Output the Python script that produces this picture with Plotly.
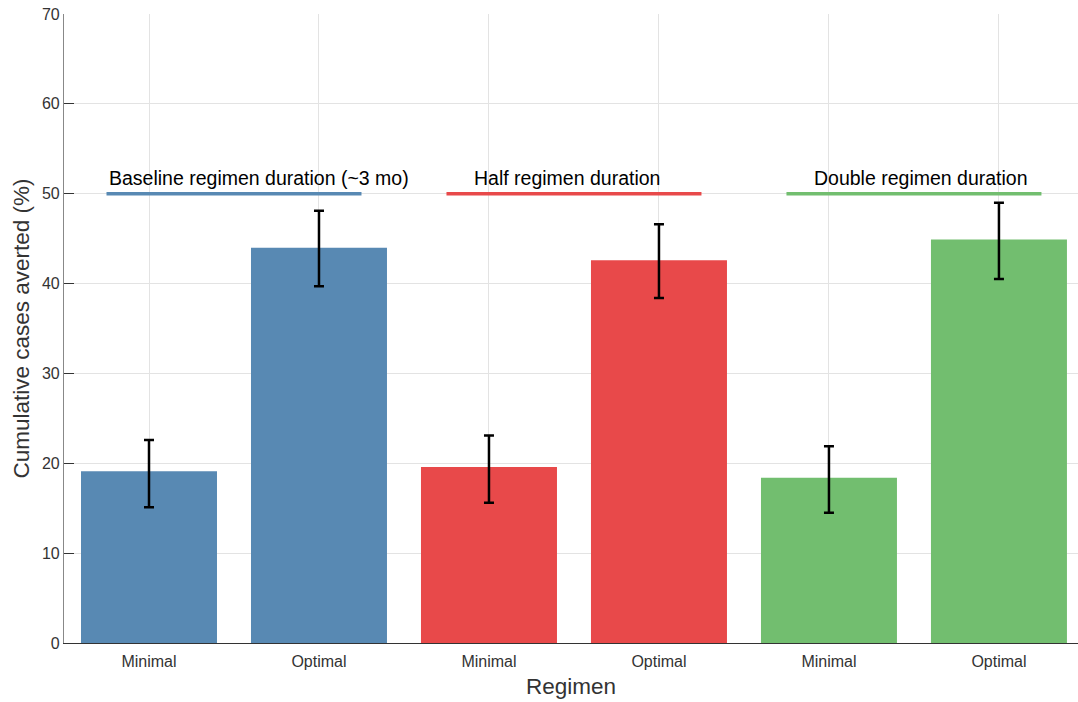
import plotly.graph_objects as go

# Regimen scenarios and estimates
regimens = ["Minimal", "Optimal", "Minimal", "Optimal", "Minimal", "Optimal"]
averted = [19.1, 44.0, 19.6, 42.6, 18.4, 44.9]
err_plus = [3.5, 4.1, 3.5, 4.0, 3.5, 4.1]
err_minus = [4.0, 4.3, 4.0, 4.2, 3.9, 4.4]
groups = ["Baseline regimen duration (~3 mo)", "Half regimen duration", "Double regimen duration"]
group_colors = ["#5889b3", "#e8494a", "#72be6f"]

x_pos = list(range(len(regimens)))
bar_colors = [group_colors[i // 2] for i in x_pos]

fig = go.Figure()
fig.add_trace(go.Bar(
    x=x_pos,
    y=averted,
    width=0.8,
    marker=dict(color=bar_colors, line=dict(width=0)),
    error_y=dict(type="data", array=err_plus, arrayminus=err_minus,
                 color="black", thickness=2.5, width=5, symmetric=False),
    showlegend=False,
))

# Group brackets at 50% with labels
text_offsets = [0.0, 0.15, 0.15]
for g, (name, col) in enumerate(zip(groups, group_colors)):
    center = 2 * g + 0.5
    fig.add_shape(type="line", xref="x", yref="y",
                  x0=center - 0.75, x1=center + 0.75, y0=50, y1=50,
                  line=dict(color=col, width=3.5))
    fig.add_annotation(x=center - 0.75 + text_offsets[g], y=50, xref="x", yref="y",
                       text=name, showarrow=False, xanchor="left", yanchor="bottom",
                       yshift=3, font=dict(size=19.5, color="black"))

fig.update_layout(
    width=1078, height=702,
    margin=dict(l=64, r=0, t=14, b=59),
    plot_bgcolor="white", paper_bgcolor="white",
    font=dict(family="Liberation Sans, Arial, sans-serif", color="#333"),
    bargap=0.2,
)
fig.update_xaxes(
    tickvals=x_pos, ticktext=regimens, range=[-0.5, 5.465],
    showgrid=True, gridcolor="#e3e3e3", gridwidth=1,
    showline=True, linecolor="#333", linewidth=1.2,
    ticks="", tickfont=dict(size=16, color="#333"), ticklabelstandoff=4,
    title=dict(text="Regimen", font=dict(size=22.5, color="#333"), standoff=8),
    zeroline=False,
)
fig.update_yaxes(
    range=[0, 70], dtick=10,
    showgrid=True, gridcolor="#e3e3e3", gridwidth=1,
    showline=True, linecolor="#888", linewidth=1.2,
    ticks="inside", ticklen=10, tickcolor="#333",
    tickfont=dict(size=16, color="#333"),
    title=dict(text="Cumulative cases averted (%)", font=dict(size=22.5, color="#333"), standoff=6),
    zeroline=False,
)

fig.write_html("out.html")
